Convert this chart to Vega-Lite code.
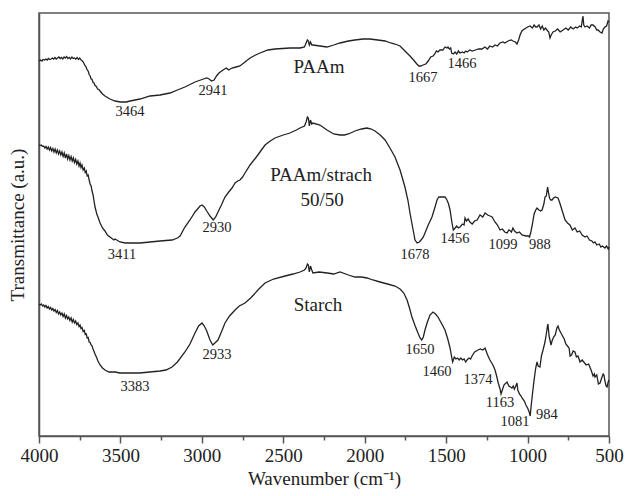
{
  "$schema": "https://vega.github.io/schema/vega-lite/v6.json",
  "width": 570,
  "height": 423,
  "autosize": {"type": "none"},
  "padding": {"left": 39, "top": 13, "right": 16, "bottom": 60},
  "background": "white",
  "config": {
    "font": "Liberation Serif",
    "view": {"stroke": "#555", "strokeWidth": 1.5}
  },
  "datasets": {
    "spectra": [
      {"s":"PAAm","w":4000,"t":375},{"s":"PAAm","w":3990,"t":376},{"s":"PAAm","w":3982,"t":375},{"s":"PAAm","w":3975,"t":376.5},{"s":"PAAm","w":3966,"t":376},{"s":"PAAm","w":3958,"t":377},{"s":"PAAm","w":3950,"t":376},{"s":"PAAm","w":3942,"t":377.5},{"s":"PAAm","w":3934,"t":376.5},{"s":"PAAm","w":3926,"t":377},{"s":"PAAm","w":3918,"t":378},{"s":"PAAm","w":3910,"t":377},{"s":"PAAm","w":3902,"t":378.5},{"s":"PAAm","w":3894,"t":377},{"s":"PAAm","w":3886,"t":378},{"s":"PAAm","w":3878,"t":379},{"s":"PAAm","w":3870,"t":377.5},{"s":"PAAm","w":3862,"t":378.5},{"s":"PAAm","w":3854,"t":377},{"s":"PAAm","w":3846,"t":379},{"s":"PAAm","w":3838,"t":378},{"s":"PAAm","w":3830,"t":379.5},{"s":"PAAm","w":3822,"t":377.5},{"s":"PAAm","w":3814,"t":378.5},{"s":"PAAm","w":3806,"t":377},{"s":"PAAm","w":3798,"t":379},{"s":"PAAm","w":3790,"t":377.5},{"s":"PAAm","w":3782,"t":378},{"s":"PAAm","w":3774,"t":377},{"s":"PAAm","w":3766,"t":378.5},{"s":"PAAm","w":3758,"t":376.5},{"s":"PAAm","w":3750,"t":378},{"s":"PAAm","w":3742,"t":376},{"s":"PAAm","w":3736,"t":375.5},{"s":"PAAm","w":3728,"t":374},{"s":"PAAm","w":3720,"t":371},{"s":"PAAm","w":3712,"t":369.5},{"s":"PAAm","w":3704,"t":366},{"s":"PAAm","w":3698,"t":365},{"s":"PAAm","w":3692,"t":361.5},{"s":"PAAm","w":3686,"t":360},{"s":"PAAm","w":3680,"t":357},{"s":"PAAm","w":3674,"t":356.5},{"s":"PAAm","w":3668,"t":353.5},{"s":"PAAm","w":3662,"t":353},{"s":"PAAm","w":3656,"t":350.5},{"s":"PAAm","w":3648,"t":349.5},{"s":"PAAm","w":3640,"t":347},{"s":"PAAm","w":3632,"t":346.5},{"s":"PAAm","w":3625,"t":345},{"s":"PAAm","w":3610,"t":342},{"s":"PAAm","w":3595,"t":340},{"s":"PAAm","w":3564,"t":337},{"s":"PAAm","w":3533,"t":335},{"s":"PAAm","w":3500,"t":334},{"s":"PAAm","w":3464,"t":334},{"s":"PAAm","w":3441,"t":335},{"s":"PAAm","w":3380,"t":337},{"s":"PAAm","w":3318,"t":340},{"s":"PAAm","w":3257,"t":341},{"s":"PAAm","w":3196,"t":343},{"s":"PAAm","w":3150,"t":346},{"s":"PAAm","w":3104,"t":349},{"s":"PAAm","w":3042,"t":354},{"s":"PAAm","w":2990,"t":357},{"s":"PAAm","w":2970,"t":358},{"s":"PAAm","w":2955,"t":357},{"s":"PAAm","w":2941,"t":355},{"s":"PAAm","w":2925,"t":356},{"s":"PAAm","w":2910,"t":360},{"s":"PAAm","w":2895,"t":363},{"s":"PAAm","w":2870,"t":366},{"s":"PAAm","w":2850,"t":368},{"s":"PAAm","w":2835,"t":366},{"s":"PAAm","w":2815,"t":368},{"s":"PAAm","w":2790,"t":369},{"s":"PAAm","w":2766,"t":370},{"s":"PAAm","w":2735,"t":374},{"s":"PAAm","w":2704,"t":378},{"s":"PAAm","w":2670,"t":381},{"s":"PAAm","w":2643,"t":383},{"s":"PAAm","w":2594,"t":386},{"s":"PAAm","w":2551,"t":387},{"s":"PAAm","w":2459,"t":388},{"s":"PAAm","w":2397,"t":388},{"s":"PAAm","w":2370,"t":389},{"s":"PAAm","w":2360,"t":393},{"s":"PAAm","w":2352,"t":396},{"s":"PAAm","w":2346,"t":395},{"s":"PAAm","w":2340,"t":391},{"s":"PAAm","w":2333,"t":394},{"s":"PAAm","w":2325,"t":391},{"s":"PAAm","w":2318,"t":391},{"s":"PAAm","w":2275,"t":390},{"s":"PAAm","w":2232,"t":389},{"s":"PAAm","w":2190,"t":391},{"s":"PAAm","w":2152,"t":393},{"s":"PAAm","w":2100,"t":395},{"s":"PAAm","w":2060,"t":396},{"s":"PAAm","w":2010,"t":397},{"s":"PAAm","w":1968,"t":397},{"s":"PAAm","w":1920,"t":396},{"s":"PAAm","w":1875,"t":395},{"s":"PAAm","w":1840,"t":393},{"s":"PAAm","w":1814,"t":392},{"s":"PAAm","w":1783,"t":390},{"s":"PAAm","w":1753,"t":385},{"s":"PAAm","w":1722,"t":380},{"s":"PAAm","w":1700,"t":376},{"s":"PAAm","w":1680,"t":372},{"s":"PAAm","w":1667,"t":370},{"s":"PAAm","w":1655,"t":370},{"s":"PAAm","w":1642,"t":371},{"s":"PAAm","w":1625,"t":372},{"s":"PAAm","w":1610,"t":375},{"s":"PAAm","w":1595,"t":379},{"s":"PAAm","w":1580,"t":380},{"s":"PAAm","w":1570,"t":382},{"s":"PAAm","w":1560,"t":385},{"s":"PAAm","w":1550,"t":384},{"s":"PAAm","w":1538,"t":386},{"s":"PAAm","w":1520,"t":386},{"s":"PAAm","w":1507,"t":389},{"s":"PAAm","w":1495,"t":388},{"s":"PAAm","w":1489,"t":389},{"s":"PAAm","w":1480,"t":387},{"s":"PAAm","w":1472,"t":388},{"s":"PAAm","w":1466,"t":383},{"s":"PAAm","w":1455,"t":382},{"s":"PAAm","w":1445,"t":384},{"s":"PAAm","w":1435,"t":382},{"s":"PAAm","w":1425,"t":385},{"s":"PAAm","w":1415,"t":383},{"s":"PAAm","w":1400,"t":384},{"s":"PAAm","w":1390,"t":383},{"s":"PAAm","w":1380,"t":385},{"s":"PAAm","w":1370,"t":384},{"s":"PAAm","w":1355,"t":386},{"s":"PAAm","w":1340,"t":385},{"s":"PAAm","w":1320,"t":386},{"s":"PAAm","w":1300,"t":387},{"s":"PAAm","w":1280,"t":387},{"s":"PAAm","w":1262,"t":389},{"s":"PAAm","w":1246,"t":387},{"s":"PAAm","w":1232,"t":390},{"s":"PAAm","w":1215,"t":389},{"s":"PAAm","w":1200,"t":391},{"s":"PAAm","w":1185,"t":390},{"s":"PAAm","w":1170,"t":393},{"s":"PAAm","w":1151,"t":394},{"s":"PAAm","w":1139,"t":393},{"s":"PAAm","w":1120,"t":395},{"s":"PAAm","w":1100,"t":396},{"s":"PAAm","w":1090,"t":395},{"s":"PAAm","w":1075,"t":394},{"s":"PAAm","w":1065,"t":392},{"s":"PAAm","w":1055,"t":396},{"s":"PAAm","w":1046,"t":401},{"s":"PAAm","w":1035,"t":405},{"s":"PAAm","w":1028,"t":406},{"s":"PAAm","w":1010,"t":408},{"s":"PAAm","w":1000,"t":409},{"s":"PAAm","w":985,"t":410},{"s":"PAAm","w":970,"t":408},{"s":"PAAm","w":960,"t":411},{"s":"PAAm","w":950,"t":409},{"s":"PAAm","w":942,"t":409},{"s":"PAAm","w":930,"t":411},{"s":"PAAm","w":920,"t":407},{"s":"PAAm","w":910,"t":410},{"s":"PAAm","w":900,"t":406},{"s":"PAAm","w":890,"t":408},{"s":"PAAm","w":881,"t":406},{"s":"PAAm","w":870,"t":404},{"s":"PAAm","w":862,"t":398},{"s":"PAAm","w":855,"t":401},{"s":"PAAm","w":844,"t":404},{"s":"PAAm","w":830,"t":405},{"s":"PAAm","w":815,"t":407},{"s":"PAAm","w":800,"t":404},{"s":"PAAm","w":782,"t":406},{"s":"PAAm","w":765,"t":408},{"s":"PAAm","w":750,"t":406},{"s":"PAAm","w":735,"t":409},{"s":"PAAm","w":720,"t":407},{"s":"PAAm","w":705,"t":409},{"s":"PAAm","w":696,"t":408},{"s":"PAAm","w":680,"t":410},{"s":"PAAm","w":670,"t":409},{"s":"PAAm","w":663,"t":417},{"s":"PAAm","w":660,"t":420},{"s":"PAAm","w":655,"t":411},{"s":"PAAm","w":647,"t":409},{"s":"PAAm","w":635,"t":410},{"s":"PAAm","w":620,"t":408},{"s":"PAAm","w":610,"t":411},{"s":"PAAm","w":598,"t":411},{"s":"PAAm","w":585,"t":409},{"s":"PAAm","w":575,"t":406},{"s":"PAAm","w":567,"t":406},{"s":"PAAm","w":555,"t":404},{"s":"PAAm","w":543,"t":403},{"s":"PAAm","w":535,"t":407},{"s":"PAAm","w":525,"t":409},{"s":"PAAm","w":515,"t":410},{"s":"PAAm","w":506,"t":415},{"s":"PAAm","w":500,"t":414},

      {"s":"Blend","w":4000,"t":291},{"s":"Blend","w":3992,"t":290.5},{"s":"Blend","w":3985,"t":291},{"s":"Blend","w":3978,"t":289.5},{"s":"Blend","w":3971,"t":290},{"s":"Blend","w":3964,"t":288},{"s":"Blend","w":3957,"t":289.5},{"s":"Blend","w":3950,"t":287},{"s":"Blend","w":3943,"t":289},{"s":"Blend","w":3936,"t":286},{"s":"Blend","w":3929,"t":288.5},{"s":"Blend","w":3922,"t":285},{"s":"Blend","w":3915,"t":287.5},{"s":"Blend","w":3908,"t":284},{"s":"Blend","w":3901,"t":287},{"s":"Blend","w":3894,"t":283},{"s":"Blend","w":3887,"t":286},{"s":"Blend","w":3880,"t":282},{"s":"Blend","w":3873,"t":285},{"s":"Blend","w":3866,"t":281},{"s":"Blend","w":3859,"t":284},{"s":"Blend","w":3852,"t":279.5},{"s":"Blend","w":3845,"t":283},{"s":"Blend","w":3838,"t":278},{"s":"Blend","w":3831,"t":282},{"s":"Blend","w":3824,"t":277},{"s":"Blend","w":3817,"t":280.5},{"s":"Blend","w":3810,"t":276},{"s":"Blend","w":3803,"t":279.5},{"s":"Blend","w":3796,"t":275},{"s":"Blend","w":3789,"t":278},{"s":"Blend","w":3782,"t":273.5},{"s":"Blend","w":3775,"t":276.5},{"s":"Blend","w":3768,"t":272},{"s":"Blend","w":3761,"t":275},{"s":"Blend","w":3754,"t":270},{"s":"Blend","w":3748,"t":273},{"s":"Blend","w":3742,"t":268.5},{"s":"Blend","w":3736,"t":271},{"s":"Blend","w":3729,"t":266},{"s":"Blend","w":3722,"t":268},{"s":"Blend","w":3716,"t":263.5},{"s":"Blend","w":3710,"t":265},{"s":"Blend","w":3704,"t":260},{"s":"Blend","w":3698,"t":261},{"s":"Blend","w":3692,"t":256},{"s":"Blend","w":3686,"t":252},{"s":"Blend","w":3680,"t":250},{"s":"Blend","w":3674,"t":245},{"s":"Blend","w":3668,"t":241},{"s":"Blend","w":3656,"t":229},{"s":"Blend","w":3645,"t":222},{"s":"Blend","w":3638,"t":219},{"s":"Blend","w":3625,"t":213},{"s":"Blend","w":3610,"t":208},{"s":"Blend","w":3595,"t":205},{"s":"Blend","w":3580,"t":201},{"s":"Blend","w":3564,"t":199},{"s":"Blend","w":3540,"t":196},{"s":"Blend","w":3533,"t":197},{"s":"Blend","w":3503,"t":194},{"s":"Blend","w":3470,"t":193},{"s":"Blend","w":3441,"t":193},{"s":"Blend","w":3411,"t":193},{"s":"Blend","w":3380,"t":193},{"s":"Blend","w":3318,"t":194},{"s":"Blend","w":3257,"t":195},{"s":"Blend","w":3183,"t":196},{"s":"Blend","w":3150,"t":198},{"s":"Blend","w":3134,"t":200},{"s":"Blend","w":3104,"t":209},{"s":"Blend","w":3073,"t":216},{"s":"Blend","w":3042,"t":224},{"s":"Blend","w":3011,"t":230},{"s":"Blend","w":2999,"t":231},{"s":"Blend","w":2985,"t":229},{"s":"Blend","w":2970,"t":225},{"s":"Blend","w":2950,"t":220},{"s":"Blend","w":2930,"t":216},{"s":"Blend","w":2915,"t":219},{"s":"Blend","w":2901,"t":224},{"s":"Blend","w":2880,"t":231},{"s":"Blend","w":2858,"t":239},{"s":"Blend","w":2835,"t":244},{"s":"Blend","w":2815,"t":248},{"s":"Blend","w":2796,"t":253},{"s":"Blend","w":2780,"t":255},{"s":"Blend","w":2766,"t":256},{"s":"Blend","w":2750,"t":259},{"s":"Blend","w":2735,"t":263},{"s":"Blend","w":2704,"t":271},{"s":"Blend","w":2670,"t":278},{"s":"Blend","w":2643,"t":284},{"s":"Blend","w":2612,"t":291},{"s":"Blend","w":2580,"t":295},{"s":"Blend","w":2551,"t":298},{"s":"Blend","w":2500,"t":301},{"s":"Blend","w":2459,"t":303},{"s":"Blend","w":2420,"t":306},{"s":"Blend","w":2397,"t":308},{"s":"Blend","w":2370,"t":310},{"s":"Blend","w":2360,"t":314},{"s":"Blend","w":2352,"t":319},{"s":"Blend","w":2346,"t":318},{"s":"Blend","w":2340,"t":310},{"s":"Blend","w":2333,"t":316},{"s":"Blend","w":2325,"t":312},{"s":"Blend","w":2318,"t":313},{"s":"Blend","w":2275,"t":311},{"s":"Blend","w":2232,"t":306},{"s":"Blend","w":2190,"t":302},{"s":"Blend","w":2152,"t":301},{"s":"Blend","w":2125,"t":301},{"s":"Blend","w":2100,"t":302},{"s":"Blend","w":2060,"t":305},{"s":"Blend","w":2020,"t":307},{"s":"Blend","w":1986,"t":308},{"s":"Blend","w":1960,"t":307},{"s":"Blend","w":1937,"t":305},{"s":"Blend","w":1905,"t":301},{"s":"Blend","w":1875,"t":296},{"s":"Blend","w":1845,"t":288},{"s":"Blend","w":1814,"t":279},{"s":"Blend","w":1783,"t":266},{"s":"Blend","w":1753,"t":249},{"s":"Blend","w":1735,"t":236},{"s":"Blend","w":1722,"t":223},{"s":"Blend","w":1705,"t":208},{"s":"Blend","w":1691,"t":196},{"s":"Blend","w":1678,"t":193},{"s":"Blend","w":1665,"t":194},{"s":"Blend","w":1654,"t":196},{"s":"Blend","w":1640,"t":199},{"s":"Blend","w":1630,"t":203},{"s":"Blend","w":1610,"t":211},{"s":"Blend","w":1587,"t":219},{"s":"Blend","w":1570,"t":228},{"s":"Blend","w":1556,"t":236},{"s":"Blend","w":1545,"t":239},{"s":"Blend","w":1538,"t":239},{"s":"Blend","w":1520,"t":239},{"s":"Blend","w":1507,"t":239},{"s":"Blend","w":1495,"t":236},{"s":"Blend","w":1485,"t":232},{"s":"Blend","w":1476,"t":226},{"s":"Blend","w":1465,"t":214},{"s":"Blend","w":1456,"t":206},{"s":"Blend","w":1445,"t":208},{"s":"Blend","w":1435,"t":210},{"s":"Blend","w":1425,"t":208},{"s":"Blend","w":1415,"t":209},{"s":"Blend","w":1400,"t":212},{"s":"Blend","w":1390,"t":211},{"s":"Blend","w":1384,"t":218},{"s":"Blend","w":1375,"t":215},{"s":"Blend","w":1365,"t":217},{"s":"Blend","w":1354,"t":214},{"s":"Blend","w":1340,"t":212},{"s":"Blend","w":1325,"t":215},{"s":"Blend","w":1310,"t":216},{"s":"Blend","w":1292,"t":221},{"s":"Blend","w":1275,"t":219},{"s":"Blend","w":1261,"t":223},{"s":"Blend","w":1245,"t":221},{"s":"Blend","w":1230,"t":220},{"s":"Blend","w":1218,"t":219},{"s":"Blend","w":1200,"t":214},{"s":"Blend","w":1185,"t":211},{"s":"Blend","w":1169,"t":206},{"s":"Blend","w":1155,"t":207},{"s":"Blend","w":1140,"t":204},{"s":"Blend","w":1126,"t":203},{"s":"Blend","w":1115,"t":206},{"s":"Blend","w":1105,"t":205},{"s":"Blend","w":1099,"t":204},{"s":"Blend","w":1090,"t":208},{"s":"Blend","w":1080,"t":205},{"s":"Blend","w":1065,"t":203},{"s":"Blend","w":1050,"t":204},{"s":"Blend","w":1034,"t":201},{"s":"Blend","w":1010,"t":200},{"s":"Blend","w":995,"t":200},{"s":"Blend","w":988,"t":199},{"s":"Blend","w":980,"t":204},{"s":"Blend","w":970,"t":212},{"s":"Blend","w":960,"t":222},{"s":"Blend","w":950,"t":226},{"s":"Blend","w":942,"t":228},{"s":"Blend","w":930,"t":226},{"s":"Blend","w":920,"t":225},{"s":"Blend","w":911,"t":226},{"s":"Blend","w":900,"t":232},{"s":"Blend","w":893,"t":239},{"s":"Blend","w":885,"t":240},{"s":"Blend","w":877,"t":249},{"s":"Blend","w":872,"t":244},{"s":"Blend","w":865,"t":238},{"s":"Blend","w":858,"t":236},{"s":"Blend","w":850,"t":236},{"s":"Blend","w":840,"t":238},{"s":"Blend","w":830,"t":239},{"s":"Blend","w":813,"t":238},{"s":"Blend","w":800,"t":232},{"s":"Blend","w":785,"t":224},{"s":"Blend","w":770,"t":216},{"s":"Blend","w":755,"t":213},{"s":"Blend","w":740,"t":211},{"s":"Blend","w":725,"t":206},{"s":"Blend","w":709,"t":208},{"s":"Blend","w":695,"t":204},{"s":"Blend","w":680,"t":205},{"s":"Blend","w":665,"t":201},{"s":"Blend","w":647,"t":199},{"s":"Blend","w":635,"t":200},{"s":"Blend","w":620,"t":196},{"s":"Blend","w":605,"t":195},{"s":"Blend","w":595,"t":193},{"s":"Blend","w":586,"t":194},{"s":"Blend","w":575,"t":191},{"s":"Blend","w":560,"t":192},{"s":"Blend","w":550,"t":189},{"s":"Blend","w":540,"t":190},{"s":"Blend","w":525,"t":188},{"s":"Blend","w":515,"t":190},{"s":"Blend","w":505,"t":187},{"s":"Blend","w":500,"t":189},

      {"s":"Starch","w":4000,"t":132},{"s":"Starch","w":3992,"t":131},{"s":"Starch","w":3985,"t":132},{"s":"Starch","w":3978,"t":130},{"s":"Starch","w":3971,"t":131},{"s":"Starch","w":3964,"t":129},{"s":"Starch","w":3957,"t":130.5},{"s":"Starch","w":3950,"t":128},{"s":"Starch","w":3943,"t":129.5},{"s":"Starch","w":3936,"t":127},{"s":"Starch","w":3929,"t":128.5},{"s":"Starch","w":3922,"t":126},{"s":"Starch","w":3915,"t":127.5},{"s":"Starch","w":3908,"t":125},{"s":"Starch","w":3901,"t":126.5},{"s":"Starch","w":3894,"t":123.5},{"s":"Starch","w":3887,"t":125.5},{"s":"Starch","w":3880,"t":122},{"s":"Starch","w":3873,"t":124},{"s":"Starch","w":3866,"t":121},{"s":"Starch","w":3859,"t":123},{"s":"Starch","w":3852,"t":119.5},{"s":"Starch","w":3845,"t":122},{"s":"Starch","w":3838,"t":118},{"s":"Starch","w":3831,"t":120.5},{"s":"Starch","w":3824,"t":117},{"s":"Starch","w":3817,"t":119},{"s":"Starch","w":3810,"t":115.5},{"s":"Starch","w":3803,"t":118},{"s":"Starch","w":3796,"t":114},{"s":"Starch","w":3789,"t":116.5},{"s":"Starch","w":3782,"t":113},{"s":"Starch","w":3775,"t":115},{"s":"Starch","w":3768,"t":111.5},{"s":"Starch","w":3761,"t":113},{"s":"Starch","w":3754,"t":109.5},{"s":"Starch","w":3748,"t":111},{"s":"Starch","w":3742,"t":107.5},{"s":"Starch","w":3736,"t":108.5},{"s":"Starch","w":3729,"t":104.5},{"s":"Starch","w":3722,"t":105.5},{"s":"Starch","w":3716,"t":101.5},{"s":"Starch","w":3710,"t":102},{"s":"Starch","w":3704,"t":98},{"s":"Starch","w":3698,"t":98.5},{"s":"Starch","w":3692,"t":94},{"s":"Starch","w":3686,"t":93.5},{"s":"Starch","w":3680,"t":91},{"s":"Starch","w":3674,"t":90},{"s":"Starch","w":3668,"t":87},{"s":"Starch","w":3656,"t":82},{"s":"Starch","w":3645,"t":78},{"s":"Starch","w":3638,"t":75},{"s":"Starch","w":3625,"t":71},{"s":"Starch","w":3610,"t":68},{"s":"Starch","w":3595,"t":66},{"s":"Starch","w":3570,"t":64},{"s":"Starch","w":3533,"t":64},{"s":"Starch","w":3503,"t":63},{"s":"Starch","w":3450,"t":63},{"s":"Starch","w":3383,"t":63},{"s":"Starch","w":3320,"t":64},{"s":"Starch","w":3257,"t":65},{"s":"Starch","w":3220,"t":66},{"s":"Starch","w":3183,"t":69},{"s":"Starch","w":3150,"t":74},{"s":"Starch","w":3104,"t":84},{"s":"Starch","w":3073,"t":92},{"s":"Starch","w":3042,"t":103},{"s":"Starch","w":3020,"t":110},{"s":"Starch","w":2999,"t":113},{"s":"Starch","w":2985,"t":110},{"s":"Starch","w":2970,"t":105},{"s":"Starch","w":2950,"t":96},{"s":"Starch","w":2933,"t":91},{"s":"Starch","w":2920,"t":93},{"s":"Starch","w":2901,"t":96},{"s":"Starch","w":2880,"t":104},{"s":"Starch","w":2858,"t":113},{"s":"Starch","w":2830,"t":120},{"s":"Starch","w":2796,"t":126},{"s":"Starch","w":2770,"t":130},{"s":"Starch","w":2735,"t":133},{"s":"Starch","w":2700,"t":138},{"s":"Starch","w":2650,"t":147},{"s":"Starch","w":2612,"t":153},{"s":"Starch","w":2560,"t":157},{"s":"Starch","w":2489,"t":160},{"s":"Starch","w":2440,"t":162},{"s":"Starch","w":2397,"t":164},{"s":"Starch","w":2370,"t":166},{"s":"Starch","w":2360,"t":168},{"s":"Starch","w":2352,"t":172},{"s":"Starch","w":2346,"t":171},{"s":"Starch","w":2340,"t":164},{"s":"Starch","w":2333,"t":170},{"s":"Starch","w":2325,"t":166},{"s":"Starch","w":2318,"t":163},{"s":"Starch","w":2280,"t":164},{"s":"Starch","w":2230,"t":163},{"s":"Starch","w":2190,"t":162},{"s":"Starch","w":2152,"t":164},{"s":"Starch","w":2100,"t":161},{"s":"Starch","w":2060,"t":159},{"s":"Starch","w":2020,"t":159},{"s":"Starch","w":1986,"t":158},{"s":"Starch","w":1950,"t":156},{"s":"Starch","w":1906,"t":154},{"s":"Starch","w":1860,"t":152},{"s":"Starch","w":1814,"t":150},{"s":"Starch","w":1783,"t":147},{"s":"Starch","w":1760,"t":143},{"s":"Starch","w":1740,"t":136},{"s":"Starch","w":1725,"t":128},{"s":"Starch","w":1710,"t":119},{"s":"Starch","w":1690,"t":110},{"s":"Starch","w":1673,"t":103},{"s":"Starch","w":1660,"t":98},{"s":"Starch","w":1650,"t":96},{"s":"Starch","w":1640,"t":99},{"s":"Starch","w":1630,"t":106},{"s":"Starch","w":1615,"t":114},{"s":"Starch","w":1599,"t":121},{"s":"Starch","w":1581,"t":124},{"s":"Starch","w":1565,"t":122},{"s":"Starch","w":1550,"t":119},{"s":"Starch","w":1530,"t":113},{"s":"Starch","w":1507,"t":106},{"s":"Starch","w":1490,"t":97},{"s":"Starch","w":1476,"t":88},{"s":"Starch","w":1465,"t":78},{"s":"Starch","w":1460,"t":74},{"s":"Starch","w":1450,"t":79},{"s":"Starch","w":1440,"t":77},{"s":"Starch","w":1430,"t":78},{"s":"Starch","w":1420,"t":76},{"s":"Starch","w":1410,"t":78},{"s":"Starch","w":1400,"t":76},{"s":"Starch","w":1390,"t":77},{"s":"Starch","w":1380,"t":74},{"s":"Starch","w":1372,"t":76},{"s":"Starch","w":1360,"t":78},{"s":"Starch","w":1350,"t":77},{"s":"Starch","w":1341,"t":80},{"s":"Starch","w":1325,"t":84},{"s":"Starch","w":1304,"t":86},{"s":"Starch","w":1290,"t":87},{"s":"Starch","w":1275,"t":86},{"s":"Starch","w":1261,"t":88},{"s":"Starch","w":1250,"t":83},{"s":"Starch","w":1240,"t":79},{"s":"Starch","w":1231,"t":76},{"s":"Starch","w":1220,"t":73},{"s":"Starch","w":1210,"t":70},{"s":"Starch","w":1200,"t":66},{"s":"Starch","w":1190,"t":60},{"s":"Starch","w":1180,"t":53},{"s":"Starch","w":1169,"t":47},{"s":"Starch","w":1163,"t":42},{"s":"Starch","w":1155,"t":46},{"s":"Starch","w":1145,"t":51},{"s":"Starch","w":1139,"t":52},{"s":"Starch","w":1126,"t":54},{"s":"Starch","w":1115,"t":50},{"s":"Starch","w":1105,"t":49},{"s":"Starch","w":1096,"t":48},{"s":"Starch","w":1088,"t":50},{"s":"Starch","w":1081,"t":47},{"s":"Starch","w":1075,"t":49},{"s":"Starch","w":1065,"t":53},{"s":"Starch","w":1060,"t":46},{"s":"Starch","w":1050,"t":42},{"s":"Starch","w":1040,"t":40},{"s":"Starch","w":1034,"t":38},{"s":"Starch","w":1020,"t":35},{"s":"Starch","w":1010,"t":31},{"s":"Starch","w":1000,"t":28},{"s":"Starch","w":990,"t":24},{"s":"Starch","w":984,"t":20},{"s":"Starch","w":978,"t":30},{"s":"Starch","w":970,"t":42},{"s":"Starch","w":960,"t":56},{"s":"Starch","w":950,"t":68},{"s":"Starch","w":942,"t":74},{"s":"Starch","w":935,"t":70},{"s":"Starch","w":924,"t":69},{"s":"Starch","w":915,"t":80},{"s":"Starch","w":905,"t":86},{"s":"Starch","w":893,"t":94},{"s":"Starch","w":885,"t":102},{"s":"Starch","w":878,"t":110},{"s":"Starch","w":875,"t":112},{"s":"Starch","w":868,"t":100},{"s":"Starch","w":860,"t":94},{"s":"Starch","w":856,"t":91},{"s":"Starch","w":850,"t":95},{"s":"Starch","w":840,"t":99},{"s":"Starch","w":830,"t":101},{"s":"Starch","w":820,"t":108},{"s":"Starch","w":813,"t":110},{"s":"Starch","w":805,"t":106},{"s":"Starch","w":795,"t":103},{"s":"Starch","w":785,"t":100},{"s":"Starch","w":775,"t":97},{"s":"Starch","w":765,"t":92},{"s":"Starch","w":755,"t":90},{"s":"Starch","w":745,"t":88},{"s":"Starch","w":739,"t":80},{"s":"Starch","w":730,"t":81},{"s":"Starch","w":720,"t":85},{"s":"Starch","w":709,"t":84},{"s":"Starch","w":700,"t":79},{"s":"Starch","w":690,"t":80},{"s":"Starch","w":678,"t":74},{"s":"Starch","w":665,"t":76},{"s":"Starch","w":650,"t":73},{"s":"Starch","w":640,"t":71},{"s":"Starch","w":625,"t":72},{"s":"Starch","w":610,"t":66},{"s":"Starch","w":598,"t":60},{"s":"Starch","w":590,"t":62},{"s":"Starch","w":586,"t":59},{"s":"Starch","w":575,"t":61},{"s":"Starch","w":565,"t":52},{"s":"Starch","w":555,"t":53},{"s":"Starch","w":545,"t":58},{"s":"Starch","w":536,"t":62},{"s":"Starch","w":531,"t":61},{"s":"Starch","w":525,"t":55},{"s":"Starch","w":518,"t":50},{"s":"Starch","w":512,"t":49},{"s":"Starch","w":505,"t":54},{"s":"Starch","w":500,"t":56}
    ],
    "peaks": [
      {"label":"3464","w":3441,"t":324},
      {"label":"2941","w":2932,"t":345},
      {"label":"1667","w":1642,"t":358},
      {"label":"1466","w":1403,"t":372},
      {"label":"3411","w":3490,"t":181},
      {"label":"2930","w":2907,"t":208},
      {"label":"1678","w":1691,"t":181},
      {"label":"1456","w":1446,"t":197},
      {"label":"1099","w":1151,"t":191},
      {"label":"988","w":924,"t":191},
      {"label":"3383","w":3411,"t":49},
      {"label":"2933","w":2907,"t":81},
      {"label":"1650","w":1660,"t":86},
      {"label":"1460","w":1556,"t":64},
      {"label":"1374","w":1304,"t":56},
      {"label":"1163","w":1169,"t":33},
      {"label":"1081","w":1077,"t":14},
      {"label":"984","w":881,"t":21}
    ],
    "names": [
      {"label":"PAAm","w":2281,"t":369},
      {"label":"PAAm/strach","w":2268,"t":261},
      {"label":"50/50","w":2262,"t":236},
      {"label":"Starch","w":2287,"t":131}
    ]
  },
  "layer": [
    {
      "data": {"name": "spectra"},
      "mark": {"type": "line", "color": "#222", "strokeWidth": 1.3},
      "encoding": {
        "x": {
          "field": "w",
          "type": "quantitative",
          "scale": {"domain": [500, 4000], "reverse": true, "nice": false, "zero": false},
          "axis": {
            "values": [4000, 3750, 3500, 3250, 3000, 2750, 2500, 2250, 2000, 1750, 1500, 1250, 1000, 750, 500],
            "format": "d",
            "labelExpr": "datum.value % 500 === 0 ? datum.label : ''",
            "tickSize": {"condition": {"test": "datum.value % 500 === 0", "value": 7}, "value": 4},
            "tickColor": "#555",
            "tickWidth": 1.5,
            "labelFontSize": 19,
            "labelColor": "#222",
            "labelPadding": 3,
            "labelOverlap": false,
            "labelFlush": false,
            "domainColor": "#555",
            "domainWidth": 1.5,
            "grid": false,
            "title": "Wavenumber (cm⁻¹)",
            "titleFontSize": 19,
            "titleFontWeight": "normal",
            "titleColor": "#222",
            "titlePadding": 4
          }
        },
        "y": {
          "field": "t",
          "type": "quantitative",
          "scale": {"domain": [0, 423], "nice": false, "zero": false},
          "axis": {
            "labels": false,
            "ticks": false,
            "grid": false,
            "domainColor": "#555",
            "domainWidth": 1.5,
            "title": "Transmittance (a.u.)",
            "titleFontSize": 19,
            "titleFontWeight": "normal",
            "titleColor": "#222",
            "titlePadding": 12
          }
        },
        "detail": {"field": "s"}
      }
    },
    {
      "data": {"name": "peaks"},
      "mark": {"type": "text", "fontSize": 14.5, "color": "#222"},
      "encoding": {
        "x": {"field": "w", "type": "quantitative"},
        "y": {"field": "t", "type": "quantitative"},
        "text": {"field": "label"}
      }
    },
    {
      "data": {"name": "names"},
      "mark": {"type": "text", "fontSize": 19, "color": "#222"},
      "encoding": {
        "x": {"field": "w", "type": "quantitative"},
        "y": {"field": "t", "type": "quantitative"},
        "text": {"field": "label"}
      }
    }
  ]
}
